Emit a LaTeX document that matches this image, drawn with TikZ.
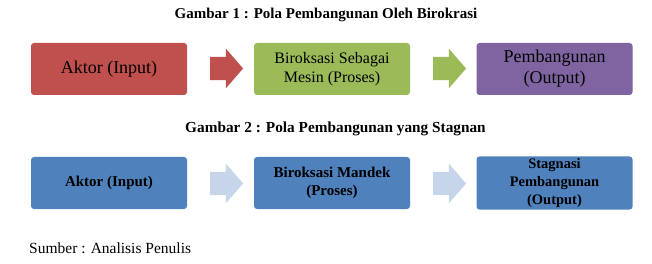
\documentclass[tikz,border=0pt]{standalone}
\usepackage{fontspec}
\setmainfont{Liberation Serif}
\usetikzlibrary{shapes.arrows}

\definecolor{merah}{HTML}{C0504D}
\definecolor{hijau}{HTML}{9BBB59}
\definecolor{ungu}{HTML}{8064A2}
\definecolor{biru}{HTML}{4F81BD}
\definecolor{birumuda}{HTML}{C6D5EA}

\begin{document}
\begin{tikzpicture}[x=1pt, y=-1pt,
    box/.style={rounded corners=3pt, minimum width=156pt, minimum height=52pt,
      align=center, inner sep=2pt, text=black},
    panah/.style={single arrow, single arrow head extend=8pt, single arrow tip angle=98,
      minimum height=33pt, inner xsep=0pt, inner ysep=11.5pt},
    judul/.style={font=\fontsize{15}{18}\selectfont\bfseries}]
  \useasboundingbox (0,0) rectangle (652,264);
  % Gambar 1
  \node[judul] (judul1) at (326,15) {Gambar 1 : Pola Pembangunan Oleh Birokrasi};
  \node[box, fill=merah, font=\fontsize{18}{21}\selectfont] (aktor) at (109,69) {Aktor (Input)};
  \node[box, fill=hijau, font=\fontsize{16}{19}\selectfont] (mesin) at (332,69) {Biroksasi Sebagai\\Mesin (Proses)};
  \node[box, fill=ungu, font=\fontsize{18}{21}\selectfont] (hasil) at (554.5,69) {Pembangunan\\(Output)};
  \node[panah, fill=merah] (panah1) at (221.5,68.5) {};
  \node[panah, fill=hijau] (panah2) at (444.5,68.5) {};
  % Gambar 2
  \node[judul, font=\fontsize{15.3}{18}\selectfont\bfseries] (judul2) at (335.5,129) {Gambar 2 : Pola Pembangunan yang Stagnan};
  \node[box, fill=biru, font=\fontsize{15}{18}\selectfont\bfseries] (aktor2) at (109,183) {Aktor (Input)};
  \node[box, fill=biru, font=\fontsize{15}{18}\selectfont\bfseries] (mandek) at (332,183) {Biroksasi Mandek\\(Proses)};
  \node[box, fill=biru, font=\fontsize{14.5}{18}\selectfont\bfseries] (stagnasi) at (554.5,183) {Stagnasi\\Pembangunan\\(Output)};
  \node[panah, fill=birumuda] (panah3) at (221.5,183.5) {};
  \node[panah, fill=birumuda] (panah4) at (444.5,183.5) {};
  % Sumber
  \node[anchor=west, inner sep=0pt, font=\fontsize{15.5}{18}\selectfont] (sumber) at (29,248) {Sumber : Analisis Penulis};
\end{tikzpicture}
\end{document}
